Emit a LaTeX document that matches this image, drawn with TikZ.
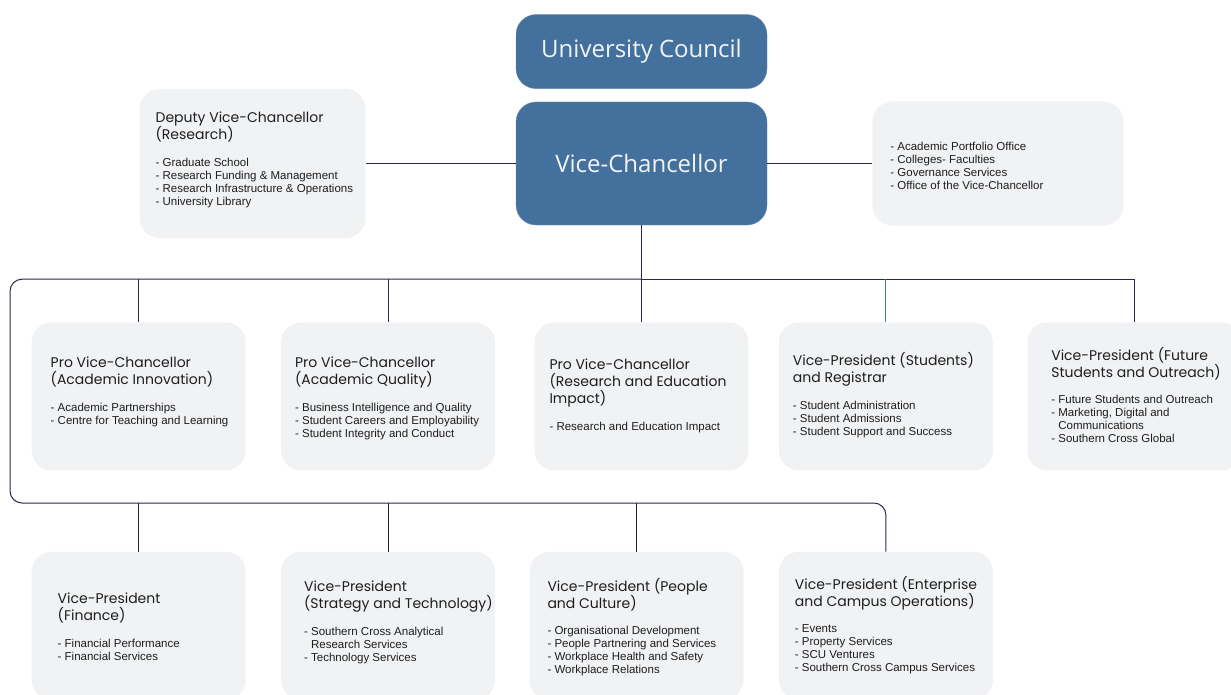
\documentclass[tikz,border=0pt]{standalone}
\usepackage{fontspec}
\newfontfamily\titlefont{Open Sans}
\newfontfamily\headfont{Poppins}
\newfontfamily\itemfont{Liberation Sans}
\usetikzlibrary{positioning}

\definecolor{ucblue}{HTML}{44709D}
\definecolor{unitgray}{HTML}{F1F2F4}
\definecolor{busline}{HTML}{2B2650}
\definecolor{dropblue}{HTML}{4A78C8}
\definecolor{lowline}{HTML}{1F2430}
\definecolor{inktext}{HTML}{1E1E1E}

\tikzset{
  lead/.style={rounded corners=20pt, fill=ucblue, draw=ucblue!80!white, text=white!92!ucblue,
    minimum width=251pt, font=\titlefont\fontsize{24}{29}\selectfont},
  unit/.style={rounded corners=20pt, fill=unitgray, minimum width=214pt, minimum height=148pt, inner sep=0pt},
  head/.style={align=left, inner sep=0pt, text=inktext, font=\headfont\fontsize{14}{17}\selectfont},
  items/.style={align=left, inner sep=0pt, text=inktext, font=\itemfont\fontsize{11.5}{13}\selectfont},
  link/.style={draw=busline, line width=1pt},
}

\begin{document}
\begin{tikzpicture}[x=1pt, y=-1pt]
        \clip (0,0) rectangle (1231,695);

        % council and vice-chancellor
        \node [lead, minimum height=123pt] (vc) at (641.5,163.5) {Vice-Chancellor};
        \node [lead, minimum height=74pt, above=13pt of vc] (council) {University Council};

        \node [unit, minimum width=226pt, minimum height=149pt, left=150pt of vc] (dvcr) {};
        \node [head, below right=23pt and 16pt of dvcr.north west] (dvcr-h) {Deputy Vice-Chancellor\\(Research)};
        \node [items, below right=16pt and 0pt of dvcr-h.south west] (dvcr-l) {- Graduate School\\- Research Funding \& Management\\- Research Infrastructure \& Operations\\- University Library};

        \node [unit, minimum width=251pt, minimum height=124pt, right=105pt of vc] (office) {};
        \node [items, below right=41pt and 18pt of office.north west] (office-l) {- Academic Portfolio Office\\- Colleges- Faculties\\- Governance Services\\- Office of the Vice-Chancellor};

        % first row
        \node [unit, below=97pt of vc] (pvcrei) {};
        \node [unit, left=39pt of pvcrei] (pvcaq) {};
        \node [unit, left=35pt of pvcaq] (pvcai) {};
        \node [unit, right=30pt of pvcrei] (vpsr) {};
        \node [unit, right=34pt of vpsr] (vpfso) {};

        \node [head, below right=34pt and 19pt of pvcai.north west] (pvcai-h) {Pro Vice-Chancellor\\(Academic Innovation)};
        \node [items, below right=16pt and 0pt of pvcai-h.south west] (pvcai-l) {- Academic Partnerships\\- Centre for Teaching and Learning};

        \node [head, below right=34pt and 14pt of pvcaq.north west] (pvcaq-h) {Pro Vice-Chancellor\\(Academic Quality)};
        \node [items, below right=15pt and 0pt of pvcaq-h.south west] (pvcaq-l) {- Business Intelligence and Quality\\- Student Careers and Employability\\- Student Integrity and Conduct};

        \node [head, below right=36pt and 15pt of pvcrei.north west] (pvcrei-h) {Pro Vice-Chancellor\\(Research and Education\\Impact)};
        \node [items, below right=15pt and 0pt of pvcrei-h.south west] (pvcrei-l) {- Research and Education Impact};

        \node [head, below right=30pt and 14pt of vpsr.north west] (vpsr-h) {Vice-President (Students)\\and Registrar};
        \node [items, below right=15pt and 0pt of vpsr-h.south west] (vpsr-l) {- Student Administration\\- Student Admissions\\- Student Support and Success};

        \node [head, below right=25pt and 24pt of vpfso.north west] (vpfso-h) {Vice-President (Future\\Students and Outreach)};
        \node [items, below right=15pt and 0pt of vpfso-h.south west] (vpfso-l) {- Future Students and Outreach\\- Marketing, Digital and\\\phantom{- }Communications\\- Southern Cross Global};

        % second row
        \node [unit, below=81pt of pvcai] (vpf) {};
        \node [unit, right=35pt of vpf] (vpst) {};
        \node [unit, right=34pt of vpst] (vppc) {};
        \node [unit, right=35pt of vppc] (vpeco) {};

        \node [head, below right=41pt and 26pt of vpf.north west] (vpf-h) {Vice-President\\(Finance)};
        \node [items, below right=16pt and 0pt of vpf-h.south west] (vpf-l) {- Financial Performance\\- Financial Services};

        \node [head, below right=29pt and 23pt of vpst.north west] (vpst-h) {Vice-President\\(Strategy and Technology)};
        \node [items, below right=15pt and 0pt of vpst-h.south west] (vpst-l) {- Southern Cross Analytical\\\phantom{- }Research Services\\- Technology Services};

        \node [head, below right=27pt and 18pt of vppc.north west] (vppc-h) {Vice-President (People\\and Culture)};
        \node [items, below right=14pt and 0pt of vppc-h.south west] (vppc-l) {- Organisational Development\\- People Partnering and Services\\- Workplace Health and Safety\\- Workplace Relations};

        \node [head, below right=25pt and 16pt of vpeco.north west] (vpeco-h) {Vice-President (Enterprise\\and Campus Operations)};
        \node [items, below right=14pt and 0pt of vpeco-h.south west] (vpeco-l) {- Events\\- Property Services\\- SCU Ventures\\- Southern Cross Campus Services};

        % reporting lines
        \coordinate [below=54pt of vc] (bus);
        \coordinate (loop) at (10,503);

        \draw [link] (dvcr) -- (vc);
        \draw [link] (vc) -- (office);
        \draw [link] (vc) -- (bus);
        \draw [link] (bus) -| (vpfso);
        \draw [link, rounded corners=12pt] (bus) -| (loop) -| (vpeco);

        \foreach \u in {pvcai, pvcaq, pvcrei}
            \draw [link] (\u) -- (\u |- bus);
        \draw [link, draw=dropblue] (vpsr) -- (vpsr |- bus);
        \foreach \u in {vpf, vpst, vppc}
            \draw [link, draw=lowline] (\u) -- (\u |- loop);
    \end{tikzpicture}
\end{document}
